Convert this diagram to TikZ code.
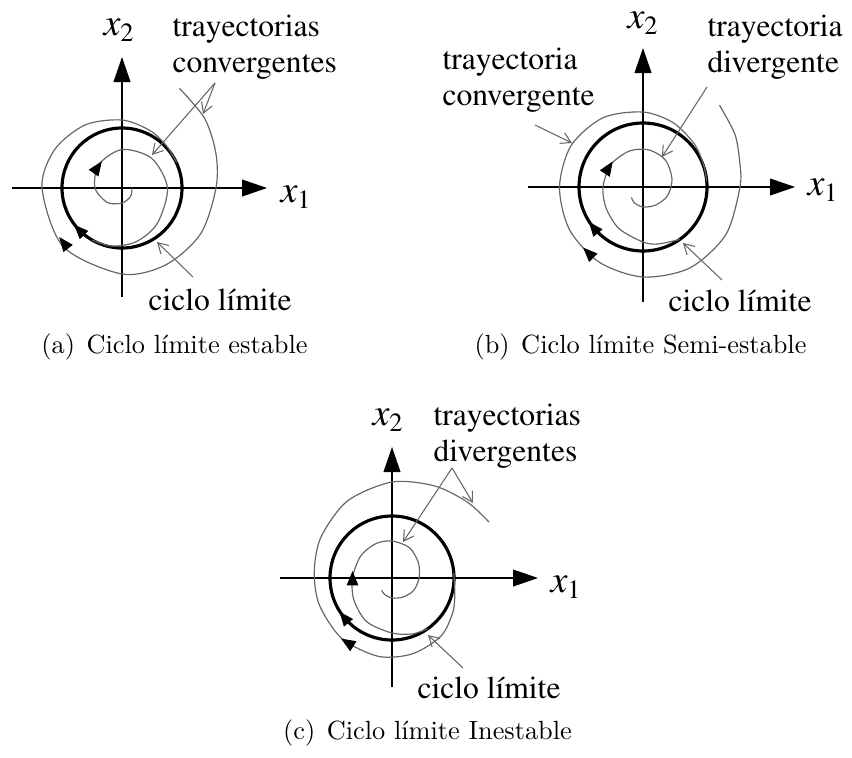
\documentclass[tikz,border=0pt]{standalone}
\usepackage[T1,TU]{fontenc}
\newcommand\serifT{\fontencoding{T1}\fontfamily{ptm}\selectfont}
\usetikzlibrary{arrows.meta}
\newcommand\axlabel[1]{{\fontsize{14.5}{15}\selectfont\itshape x}\raisebox{-2.5pt}{\fontsize{10}{10}\selectfont #1}}

\begin{document}
\begin{tikzpicture}[x=0.38pt, y=0.38pt,
  axis/.style={line width=0.45pt, -{Triangle[length=9.5pt,width=6.4pt]}},
  limcycle/.style={line width=1.2pt},
  traj/.style={line width=0.45pt, black!60},
  pointer/.style={line width=0.4pt, black!60, -{Straight Barb[length=3.8pt,width=4.4pt]}},
  flow/.style={line width=0.4pt, -{Triangle[length=5.5pt,width=4.4pt]}},
  lbl/.style={font=\serifT\fontsize{12}{13.5}\selectfont, align=left, anchor=base west, inner sep=0pt},
  axlbl/.style={font=\serifT, anchor=base west, inner sep=0pt},
  caption/.style={anchor=base, inner sep=0pt},
]
\useasboundingbox (0,0) rectangle (852,-757);

% (a) ciclo limite estable
\begin{scope}[shift={(122,-188)}]
  \draw[axis] (-110,0) -- (145,0);
  \draw[axis] (0,-109) -- (0,131);
  \draw[limcycle] (0,0) circle[radius=60];
  \draw[traj] plot[smooth] coordinates {(60:115) (40:108) (20:100) (0:94) (-30:91)
    (-60:88.5) (-90:86) (-135:83) (-180:80) (-210:77.5) (-240:73) (-270:68)
    (-295:64) (-315:61.5) (-335:60.3)};
  \draw[traj] plot[smooth] coordinates {(0:10) (-45:12) (-90:15) (-135:20.5) (-180:27)
    (-225:33) (-270:38.5) (-315:42) (-360:45.5) (-405:50) (-435:55.5) (-460:59)
    (-480:60)};
  \draw[flow] (-136:60) -- ++(-226:7);
  \draw[flow] (-137:80) -- ++(-232:7);
  \draw[flow] (139:32) -- ++(55:7);
  \coordinate (a-inner) at (30,33);
  \coordinate (a-outer) at (81,74);
  \coordinate (a-cycle) at (35,-54);
\end{scope}
\coordinate (a-fork) at (215,-83);
\coordinate (a-tail) at (193,-277);
\node[lbl] (a-traj) at (172,-72) {trayectorias\\convergentes};
\node[lbl] (a-lim) at (148,-310) {ciclo límite};
\node[axlbl] (a-x1) at (280,-202) {\axlabel{1}};
\node[axlbl] (a-x2) at (103,-35) {\axlabel{2}};
\draw[pointer] (a-fork) -- (a-inner);
\draw[pointer] (a-fork) -- (a-outer);
\draw[pointer] (a-tail) -- (a-cycle);
\node[caption] (a-cap) at (174.5,-353) {(a)\hspace{4.4pt}Ciclo límite estable};

% (b) ciclo limite semi-estable
\begin{scope}[shift={(643,-187)}]
  \draw[axis] (-115,0) -- (152,0);
  \draw[axis] (0,-115) -- (0,139);
  \draw[limcycle] (0,0) circle[radius=64];
  \draw[traj] plot[smooth] coordinates {(47:112) (30:106) (15:100) (0:97) (-30:95.5)
    (-60:93.5) (-90:90) (-120:87) (-150:85) (-180:83.5) (-210:83) (-240:80)
    (-270:75) (-295:71) (-320:67) (-340:64.5) (-355:64)};
  \draw[traj] plot[smooth] coordinates {(-55:64) (-75:59) (-90:55) (-120:48) (-150:42.5)
    (-180:40) (-215:39.2) (-250:38.5) (-280:37.5) (-310:35) (-345:30) (-380:26)
    (-415:22) (-450:20) (-480:18) (-498:15.5)};
  \draw[flow] (-141:64) -- ++(-231:7);
  \draw[flow] (-130:85.5) -- ++(-225:7);
  \draw[flow] (150:39.4) -- ++(57:7);
  \coordinate (b-inner) at (19,30);
  \coordinate (b-outer) at (-71,44);
  \coordinate (b-cycle) at (40,-56);
\end{scope}
\coordinate (b-fork) at (707,-87);
\coordinate (b-start) at (535,-125);
\coordinate (b-tail) at (722,-280);
\node[lbl] (b-div) at (707,-72) {trayectoria\\divergente};
\node[lbl] (b-conv) at (442,-105) {trayectoria\\convergente};
\node[lbl] (b-lim) at (668,-311) {ciclo límite};
\node[axlbl] (b-x1) at (807,-195) {\axlabel{1}};
\node[axlbl] (b-x2) at (627,-28) {\axlabel{2}};
\draw[pointer] (b-fork) -- (b-inner);
\draw[pointer] (b-start) -- (b-outer);
\draw[pointer] (b-tail) -- (b-cycle);
\node[caption] (b-cap) at (640.5,-353) {(b)\hspace{4.4pt}Ciclo límite Semi-estable};

% (c) ciclo limite inestable
\begin{scope}[shift={(392,-578)}]
  \draw[axis] (-112,0) -- (146,0);
  \draw[axis] (0,-109) -- (0,131);
  \draw[limcycle] (0,0) circle[radius=62];
  \draw[traj] plot[smooth] coordinates {(5:62) (-15:65) (-30:70) (-50:76) (-75:78.5)
    (-100:79.5) (-130:78.5) (-160:77.5) (-185:78) (-210:82) (-240:89) (-270:96)
    (-295:101.5) (-315:107) (-330:112)};
  \draw[traj] plot[smooth] coordinates {(-55:62) (-70:59.5) (-90:55) (-120:50.5)
    (-150:44) (-180:39.5) (-215:38.3) (-245:38) (-270:37) (-300:35) (-330:30.5)
    (-360:27) (-390:25) (-420:22) (-450:20) (-475:18) (-490:16)};
  \draw[flow] (-141:62) -- ++(-231:7);
  \draw[flow] (-125:78.5) -- ++(-212:7);
  \draw[flow] (180:39.5) -- ++(90:7);
  \coordinate (c-inner) at (11,36);
  \coordinate (c-outer) at (81,75);
  \coordinate (c-cycle) at (36,-57);
\end{scope}
\coordinate (c-fork) at (452,-468);
\coordinate (c-tail) at (463,-668);
\node[lbl] (c-div) at (433,-461) {trayectorias\\divergentes};
\node[lbl] (c-lim) at (417,-698) {ciclo límite};
\node[axlbl] (c-x1) at (550,-592) {\axlabel{1}};
\node[axlbl] (c-x2) at (372,-425) {\axlabel{2}};
\draw[pointer] (c-fork) -- (c-inner);
\draw[pointer] (c-fork) -- (c-outer);
\draw[pointer] (c-tail) -- (c-cycle);
\node[caption] (c-cap) at (427.5,-739) {(c)\hspace{4.4pt}Ciclo límite Inestable};
\end{tikzpicture}
\end{document}
